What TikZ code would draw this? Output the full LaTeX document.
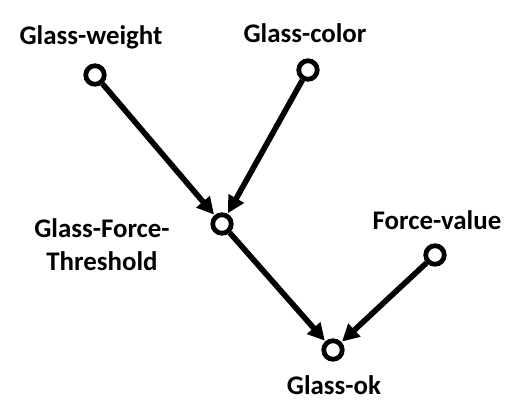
\documentclass[tikz,border=0pt]{standalone}
\usepackage{fontspec}
\setmainfont{Carlito}
\usetikzlibrary{arrows.meta,positioning}

\begin{document}
\begin{tikzpicture}[
    x=0.02cm, y=-0.02cm,
    font=\fontsize{15.3}{19.2}\selectfont\bfseries,
    var/.style={circle, draw, line width=2.7pt, minimum size=0.37cm, inner sep=0pt, fill=white},
    lbl/.style={anchor=base, align=center, inner sep=0pt},
    link/.style={line width=3.2pt, -{Triangle[length=3.4mm, width=3.4mm]}, shorten >=0.4pt}
]
\useasboundingbox (0,0) rectangle (515,409);

\node[var] (w) at (95,75) {};
\node[var] (c) at (308,70) {};
\node[var] (t) at (222,224) {};
\node[var] (f) at (435,255) {};
\node[var] (o) at (333,350) {};

\node[lbl] (lw) at (91,45) {Glass-weight};
\node[lbl] (lc) at (305,43) {Glass-color};
\node[lbl] (lt) at (102,271) {Glass-Force-\\Threshold};
\node[lbl] (lf) at (437,230) {Force-value};
\node[lbl] (lo) at (334,395) {Glass-ok};

\foreach \i/\j in {w/t, c/t, t/o, f/o}
  \draw[link] (\i) -- (\j);
\end{tikzpicture}
\end{document}
